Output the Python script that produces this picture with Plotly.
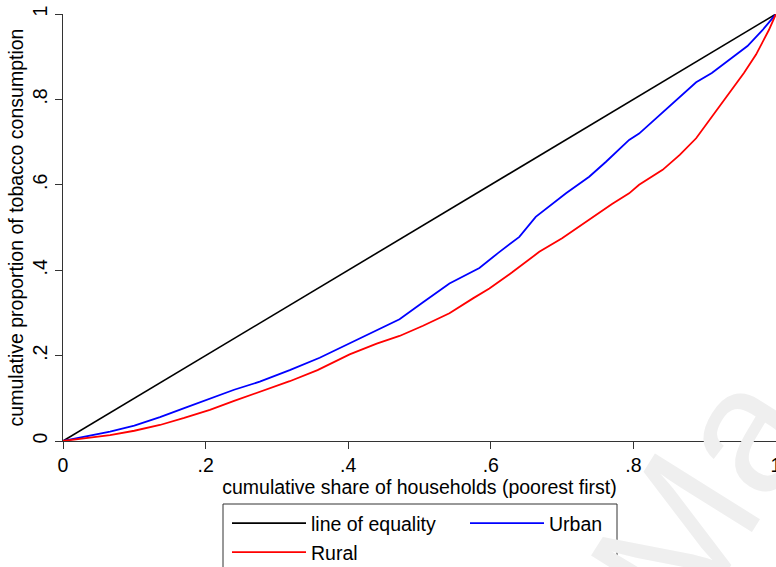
import plotly.graph_objects as go

# ---- data ----
equality_x = [0, 1]
equality_y = [0, 1]

urban_x = [0, .03, .066, .10, .136, .17, .206, .24, .276, .318, .36, .402, .44, .472, .505, .542, .584, .61, .64, .663, .7055, .738, .7616, .794, .808, .841, .865, .888, .91, .934, .96, .981, 1.0]
urban_y = [0, .010, .022, .036, .056, .077, .100, .120, .139, .166, .195, .229, .258, .285, .325, .369, .405, .440, .478, .525, .580, .619, .654, .705, .720, .770, .805, .840, .862, .892, .925, .962, 1.0]

rural_x = [0, .03, .066, .10, .136, .17, .206, .24, .276, .318, .357, .402, .44, .472, .505, .542, .575, .598, .63, .668, .70, .738, .77, .794, .808, .841, .865, .888, .91, .934, .955, .972, .99, 1.0]
rural_y = [0, .006, .014, .024, .0375, .054, .073, .094, .1155, .14, .166, .203, .228, .246, .270, .299, .334, .357, .395, .443, .475, .518, .555, .580, .600, .635, .670, .709, .760, .815, .862, .905, .9625, 1.0]

tick_vals = [0, .2, .4, .6, .8, 1]
tick_text = ["0", ".2", ".4", ".6", ".8", "1"]

x_title = "cumulative share of households (poorest first)"
y_title = "cumulative proportion of tobacco consumption"

# ---- layout geometry (pixels) ----
W, H = 776, 567
ML, MR, MT, MB = 63, 0, 14, 126
PW, PH = W - ML - MR, H - MT - MB

def px_x(p):
    return (p - ML) / PW

def px_y(p):
    return (H - MB - p) / PH

FONT = "Liberation Sans, Arial, sans-serif"
FS = 19.5

fig = go.Figure()
fig.add_trace(go.Scatter(x=equality_x, y=equality_y, mode="lines", name="line of equality",
                         line=dict(color="black", width=1.6), legend="legend"))
fig.add_trace(go.Scatter(x=urban_x, y=urban_y, mode="lines", name="Urban",
                         line=dict(color="#0000ff", width=1.8), legend="legend"))
fig.add_trace(go.Scatter(x=rural_x, y=rural_y, mode="lines", name="Rural",
                         line=dict(color="#ff0000", width=1.8), legend="legend2"))

axis_common = dict(
    range=[0, 1], tickvals=tick_vals, ticktext=tick_text,
    showgrid=False, zeroline=False, showline=True, linecolor="#333", linewidth=1,
    ticks="outside", ticklen=7, tickcolor="#333", tickwidth=1,
    tickfont=dict(family=FONT, size=FS, color="black"),
    ticklabeloverflow="allow",
    automargin=False, fixedrange=True,
)

fig.update_layout(
    width=W, height=H,
    margin=dict(l=ML, r=MR, t=MT, b=MB, pad=0, autoexpand=False),
    paper_bgcolor="white", plot_bgcolor="white",
    font=dict(family=FONT, size=FS, color="black"),
    xaxis=dict(**axis_common, title=dict(text=x_title, font=dict(family=FONT, size=FS), standoff=0)),
    yaxis=dict(**axis_common, tickangle=-90,
               title=dict(text=y_title, font=dict(family=FONT, size=FS), standoff=0)),
    legend=dict(orientation="h", x=px_x(227), y=px_y(504), xanchor="left", yanchor="top",
                bgcolor="rgba(0,0,0,0)", borderwidth=0, itemwidth=74, entrywidth=149,
                font=dict(family=FONT, size=FS), itemclick=False, itemdoubleclick=False),
    legend2=dict(orientation="h", x=px_x(227), y=px_y(533), xanchor="left", yanchor="top",
                 bgcolor="rgba(0,0,0,0)", borderwidth=0, itemwidth=74,
                 font=dict(family=FONT, size=FS), itemclick=False, itemdoubleclick=False),
    showlegend=True,
)

# legend frame
fig.add_shape(type="rect", xref="paper", yref="paper",
              x0=px_x(223), x1=px_x(617), y0=px_y(504), y1=px_y(580),
              line=dict(color="#333", width=1), fillcolor="rgba(0,0,0,0)", layer="above")

# faint watermark (kept clear of the tick labels)
fig.add_annotation(text="Ma", xref="paper", yref="paper", x=px_x(702), y=px_y(495),
                   xanchor="center", yanchor="middle",
                   showarrow=False, textangle=-58,
                   font=dict(family=FONT, size=180, color="#efefef"))

fig.write_html("out.html")
